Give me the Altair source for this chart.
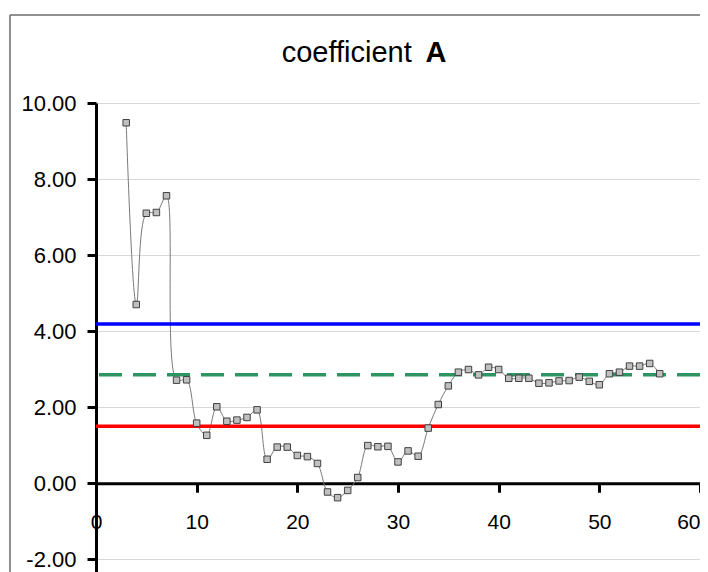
import altair as alt
import pandas as pd

# data
x_vals = list(range(3, 57))
y_vals = [9.48, 4.70, 7.10, 7.12, 7.56, 2.71, 2.72, 1.58, 1.26, 2.01,
          1.63, 1.66, 1.73, 1.93, 0.63, 0.95, 0.95, 0.73, 0.70, 0.52,
          -0.23, -0.38, -0.19, 0.15, 0.99, 0.96, 0.97, 0.56, 0.85, 0.71,
          1.45, 2.07, 2.56, 2.92, 2.99, 2.85, 3.05, 2.99, 2.76, 2.76,
          2.76, 2.63, 2.64, 2.69, 2.70, 2.79, 2.68, 2.59, 2.88, 2.92,
          3.08, 3.08, 3.15, 2.88]
upper_limit = 4.19
mean_level = 2.85
lower_limit = 1.50
x_ticks = [0, 10, 20, 30, 40, 50, 60]
y_ticks = [-2, 0, 2, 4, 6, 8, 10]
title_plain = "coefficient"
title_bold = "A"

W, H = 604, 469
Y_MIN, Y_MAX = -2.335, 10

df = pd.DataFrame({"x": x_vals, "y": y_vals})

xscale = alt.Scale(domain=[0, 60], nice=False, zero=False)
yscale = alt.Scale(domain=[Y_MIN, Y_MAX], nice=False, zero=False)

x_axis = alt.Axis(values=x_ticks, title=None, grid=False,
                  offset=-(0 - Y_MIN) * H / (Y_MAX - Y_MIN),
                  domainColor="black", domainWidth=3,
                  tickColor="black", tickWidth=3, tickSize=9,
                  labelFontSize=21, labelColor="black", labelPadding=19,
                  labelFont="Liberation Sans", labelFlush=False,
                  labelAlign={"condition": {"test": "datum.value >= 60", "value": "right"},
                              "value": "center"})
y_axis = alt.Axis(values=y_ticks, title=None, grid=True,
                  gridColor="#d9d9d9", gridWidth=1,
                  domainColor="black", domainWidth=3,
                  tickColor="black", tickWidth=3, tickSize=9,
                  labelFontSize=22, labelColor="black", labelPadding=11,
                  labelFont="Liberation Sans",
                  labelExpr="replace(format(datum.value, '.2f'), '\u2212', '-')")

base = alt.Chart(df)

line = base.mark_line(color="#7a7a7a", strokeWidth=1, interpolate="catmull-rom").encode(
    x=alt.X("x:Q", scale=xscale, axis=x_axis),
    y=alt.Y("y:Q", scale=yscale, axis=y_axis),
)
points = base.mark_point(shape="square", filled=True, fill="#c0c0c0",
                         stroke="#404040", strokeWidth=1, size=42, opacity=1).encode(
    x=alt.X("x:Q", scale=xscale),
    y=alt.Y("y:Q", scale=yscale),
)

def hrule(val, color, dash=None, width=3.5):
    kw = dict(color=color, strokeWidth=width)
    if dash:
        kw["strokeDash"] = dash
    return alt.Chart(pd.DataFrame({"v": [val]})).mark_rule(**kw).encode(
        y=alt.Y("v:Q", scale=yscale)
    )

blue = hrule(upper_limit, "#0000ff")
green = hrule(mean_level, "#2e9462", dash=[23, 11])
red = hrule(lower_limit, "#ff0000")

tdf = pd.DataFrame({"a": [title_plain], "b": [title_bold]})
t1 = alt.Chart(tdf).mark_text(font="Liberation Sans", fontSize=29, align="right",
                              baseline="alphabetic", color="black").encode(
    text="a:N", x=alt.value(315.7), y=alt.value(-41.3))
t2 = alt.Chart(tdf).mark_text(font="Liberation Sans", fontSize=29, fontWeight="bold",
                              align="left", baseline="alphabetic", color="black").encode(
    text="b:N", x=alt.value(329.5), y=alt.value(-41.3))

fdf = pd.DataFrame({"k": [1]})
frame_v = alt.Chart(fdf).mark_rule(color="#6b6b6b", strokeWidth=1.5).encode(
    x=alt.value(-86), y=alt.value(-88), y2=alt.value(H + 20))
frame_h = alt.Chart(fdf).mark_rule(color="#6b6b6b", strokeWidth=1.5).encode(
    x=alt.value(-86), x2=alt.value(W + 20), y=alt.value(-88))

chart = alt.layer(line, blue, green, red, points, t1, t2, frame_v, frame_h).properties(
    width=W, height=H,
    padding={"left": 88, "top": 95, "right": 0, "bottom": 0},
    autosize=alt.AutoSizeParams(type="none"),
    background="white",
).configure_view(stroke=None).configure(font="Liberation Sans")

chart.save("out.html", embed_options={"renderer": "svg", "actions": False})
